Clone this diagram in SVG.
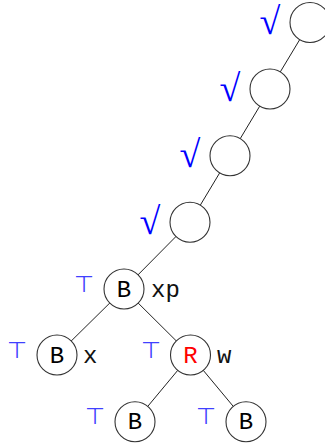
<svg xmlns="http://www.w3.org/2000/svg" width="325" height="444" viewBox="0 0 325 444">
<style>
.nd{fill:#fff;stroke:#333;stroke-width:1.1}
.ed{stroke:#222;stroke-width:1}
.lb{font-family:"Liberation Mono",monospace;font-size:24px;text-anchor:middle}
.tx{font-family:"Liberation Mono",monospace;font-size:24px;fill:#111}
.ck{font-family:"Liberation Serif",serif;font-size:38px;fill:#0000ff;text-anchor:middle}
.tp{font-family:"DejaVu Sans",sans-serif;font-size:23px;fill:#4040ff;text-anchor:middle}
</style>
<rect width="325" height="444" fill="#fff"/>
<g id="connectors">
<line class="ed" x1="310" y1="22.5" x2="270" y2="89"/>
<line class="ed" x1="270" y1="89" x2="230" y2="155.7"/>
<line class="ed" x1="230" y1="155.7" x2="190" y2="222.3"/>
<line class="ed" x1="190" y1="222.3" x2="124" y2="289"/>
<line class="ed" x1="124" y1="289" x2="57" y2="355"/>
<line class="ed" x1="124" y1="289" x2="190.5" y2="355"/>
<line class="ed" x1="190.5" y1="355" x2="135" y2="421.7"/>
<line class="ed" x1="190.5" y1="355" x2="246" y2="421.7"/>
</g>
<g id="n1"><circle class="nd" cx="310" cy="22.5" r="20"/><text class="ck" x="270" y="34">√</text></g>
<g id="n2"><circle class="nd" cx="270" cy="89" r="20"/><text class="ck" x="230" y="100.5">√</text></g>
<g id="n3"><circle class="nd" cx="230" cy="155.7" r="20"/><text class="ck" x="190" y="167.2">√</text></g>
<g id="n4"><circle class="nd" cx="190" cy="222.3" r="20"/><text class="ck" x="150" y="233.8">√</text></g>
<g id="xp"><circle class="nd" cx="124" cy="289" r="20"/><text class="lb" x="124" y="296.5">B</text><text class="tx" x="151" y="296.5">xp</text><text class="tp" x="84" y="291.5">⊤</text></g>
<g id="x"><circle class="nd" cx="57" cy="355" r="20"/><text class="lb" x="57" y="362.5">B</text><text class="tx" x="83" y="362.5">x</text><text class="tp" x="17" y="357.5">⊤</text></g>
<g id="w"><circle class="nd" cx="190.5" cy="355" r="20"/><text class="lb" x="190.5" y="362.5" fill="#ff0000">R</text><text class="tx" x="217" y="362.5">w</text><text class="tp" x="151" y="357.5">⊤</text></g>
<g id="wl"><circle class="nd" cx="135" cy="421.7" r="20"/><text class="lb" x="135" y="429.2">B</text><text class="tp" x="95" y="424.2">⊤</text></g>
<g id="wr"><circle class="nd" cx="246" cy="421.7" r="20"/><text class="lb" x="246" y="429.2">B</text><text class="tp" x="206" y="424.2">⊤</text></g>
</svg>
